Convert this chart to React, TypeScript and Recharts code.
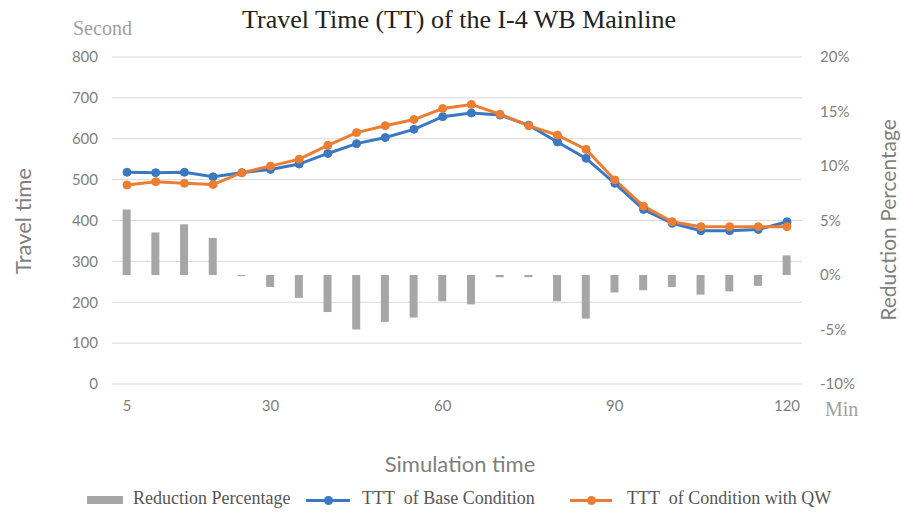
import { ComposedChart, Bar, Line, XAxis, YAxis, CartesianGrid } from 'recharts';

const times = [5, 10, 15, 20, 25, 30, 35, 40, 45, 50, 55, 60, 65, 70, 75, 80, 85, 90, 95, 100, 105, 110, 115, 120];
const baseTT = [518, 517, 518, 507, 517, 525, 538, 564, 588, 603, 623, 654, 663, 658, 633, 592, 552, 491, 427, 393, 375, 375, 378, 397];
const qwTT = [487, 495, 491, 488, 517, 533, 550, 584, 615, 632, 647, 674, 684, 660, 632, 609, 574, 499, 435, 397, 385, 385, 385, 385];
const reduction = [6.0, 3.9, 4.65, 3.4, -0.1, -1.1, -2.1, -3.4, -5.0, -4.3, -3.9, -2.4, -2.7, -0.2, -0.2, -2.4, -4.0, -1.6, -1.4, -1.1, -1.8, -1.5, -1.0, 1.8];

const xTicks = [5, 30, 60, 90, 120];
const leftTicks = [0, 100, 200, 300, 400, 500, 600, 700, 800];
const rightTicks = [-10, -5, 0, 5, 10, 15, 20];

const BLUE = '#3b78c4';
const ORANGE = '#ed7d31';
const BAR = '#a6a6a6';
const GRAY = '#7f7f7f';

const data = times.map((t, i) => ({ t, base: baseTT[i], qw: qwTT[i], red: reduction[i] }));

const tickStyle = { fill: GRAY, fontSize: 15, fontFamily: 'Lato, sans-serif' };

const App = () => {
  return (
    <div style={{ position: 'absolute', left: 0, top: 0, width: 901, height: 515, background: '#fff' }}>
      <ComposedChart width={901} height={515} data={data} margin={{ top: 57, right: 0, bottom: 101, left: 0 }}>
        <CartesianGrid yAxisId="left" vertical={false} stroke="#d9d9d9" />
        <XAxis
          dataKey="t"
          type="number"
          domain={[5, 120]}
          ticks={xTicks}
          padding={{ left: 15, right: 15 }}
          axisLine={false}
          tickLine={false}
          tickSize={0}
          tickMargin={16}
          height={30}
          tick={tickStyle}
        />
        <YAxis
          yAxisId="left"
          orientation="left"
          domain={[0, 800]}
          ticks={leftTicks}
          width={112}
          axisLine={false}
          tickLine={false}
          tickSize={0}
          tickMargin={14}
          tick={tickStyle}
        />
        <YAxis
          yAxisId="right"
          orientation="right"
          domain={[-10, 20]}
          ticks={rightTicks}
          width={99}
          axisLine={false}
          tickLine={false}
          tickSize={0}
          tickMargin={18}
          tick={tickStyle}
          tickFormatter={(v: number) => `${v}%`}
        />
        <Bar yAxisId="right" dataKey="red" fill={BAR} barSize={8} isAnimationActive={false} />
        <Line
          yAxisId="left"
          dataKey="base"
          stroke={BLUE}
          strokeWidth={3}
          dot={{ r: 4, fill: BLUE, stroke: BLUE, strokeWidth: 1 }}
          isAnimationActive={false}
        />
        <Line
          yAxisId="left"
          dataKey="qw"
          stroke={ORANGE}
          strokeWidth={3}
          dot={{ r: 4, fill: ORANGE, stroke: ORANGE, strokeWidth: 1 }}
          isAnimationActive={false}
        />
      </ComposedChart>

      {/* title and axis captions */}
      <div style={{ position: 'absolute', left: 242, top: 5, whiteSpace: 'nowrap', fontFamily: '"Liberation Serif", serif', fontSize: 26, color: '#222' }}>
        Travel Time (TT) of the I-4 WB Mainline
      </div>
      <div style={{ position: 'absolute', left: 73, top: 17, fontFamily: '"Liberation Serif", serif', fontSize: 20, color: '#a0a0a0' }}>
        Second
      </div>
      <div style={{ position: 'absolute', left: 825, top: 398, fontFamily: '"Liberation Serif", serif', fontSize: 20, color: '#a0a0a0' }}>
        Min
      </div>
      <div style={{ position: 'absolute', left: 22, top: 221, transform: 'translate(-50%, -50%) rotate(-90deg)', whiteSpace: 'nowrap', fontFamily: 'Lato, sans-serif', fontSize: 22, color: GRAY }}>
        Travel time
      </div>
      <div style={{ position: 'absolute', left: 887, top: 220, transform: 'translate(-50%, -50%) rotate(-90deg)', whiteSpace: 'nowrap', fontFamily: 'Lato, sans-serif', fontSize: 21, color: GRAY }}>
        Reduction Percentage
      </div>
      <div style={{ position: 'absolute', left: 460, top: 463, transform: 'translate(-50%, -50%)', whiteSpace: 'nowrap', fontFamily: 'Lato, sans-serif', fontSize: 22, color: GRAY }}>
        Simulation time
      </div>

      {/* legend */}
      <div style={{ position: 'absolute', left: 0, top: 488, width: 901, height: 24, fontFamily: '"Liberation Serif", serif', fontSize: 18, color: '#555' }}>
        <div style={{ position: 'absolute', left: 87, top: 8, width: 36, height: 8, background: BAR }} />
        <div style={{ position: 'absolute', left: 133, top: 0, whiteSpace: 'pre' }}>Reduction Percentage</div>
        <div style={{ position: 'absolute', left: 306, top: 11, width: 44, height: 3, background: BLUE }} />
        <div style={{ position: 'absolute', left: 324, top: 8, width: 9, height: 9, borderRadius: 5, background: BLUE }} />
        <div style={{ position: 'absolute', left: 362, top: 0, whiteSpace: 'pre' }}>TTT  of Base Condition</div>
        <div style={{ position: 'absolute', left: 570, top: 11, width: 42, height: 3, background: ORANGE }} />
        <div style={{ position: 'absolute', left: 587, top: 8, width: 9, height: 9, borderRadius: 5, background: ORANGE }} />
        <div style={{ position: 'absolute', left: 627, top: 0, whiteSpace: 'pre' }}>TTT  of Condition with QW</div>
      </div>
    </div>
  );
};

export default App;
